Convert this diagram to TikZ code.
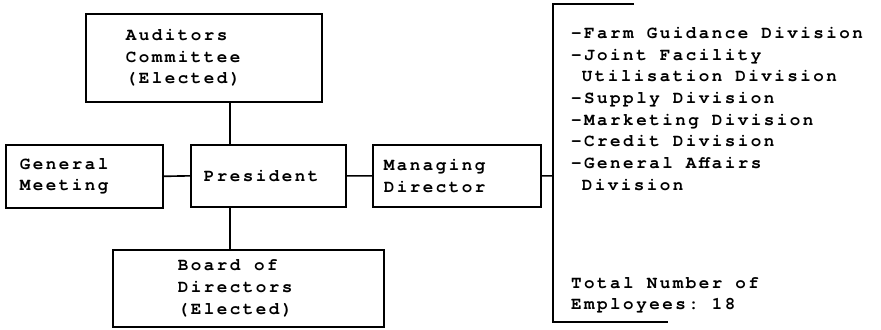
\documentclass[tikz,border=0pt]{standalone}
\usepackage{fontspec}
\setmonofont[LetterSpace=14]{texgyrecursor-bold.otf}
\usetikzlibrary{positioning}

\begin{document}
\begin{tikzpicture}[x=0.03cm, y=-0.03cm,
        every node/.style={font=\ttfamily\fontsize{15}{18.5}\selectfont},
        orgbox/.style={draw, line width=1.4pt, anchor=north west, align=left, inner ysep=0pt},
        link/.style={line width=1.4pt}]
        \useasboundingbox (0,0) rectangle (881,329);
        \begin{scope}[node distance=1 and 1]
            \node[orgbox, minimum width=7.08cm, minimum height=2.64cm, inner xsep=1.2cm, text width=4.68cm](AC) at (85,13){Auditors\\Committee\\(Elected)};
            \node[orgbox, minimum width=4.71cm, minimum height=1.89cm, inner xsep=0.42cm, text width=3.87cm](GM) at (5,144){General\\Meeting};
            \node[orgbox, minimum width=4.65cm, minimum height=1.86cm, inner xsep=0.39cm, text width=3.87cm](P) at (190,144){President};
            \node[orgbox, minimum width=5.04cm, minimum height=1.86cm, inner xsep=0.33cm, text width=4.38cm](MD) at (372,144){Managing\\Director};
            \node[orgbox, minimum width=8.13cm, minimum height=2.31cm, inner xsep=1.95cm, text width=4.23cm](BD) at (112,249){Board\hspace{0.45em} of\\Directors\\(Elected)};
            \node[anchor=north west, align=left, inner sep=0pt](DIV) at (571,27){-Farm Guidance Division\\-Joint Facility\\\phantom{-}Utilisation Division\\-Supply Division\\-Marketing Division\\-Credit Division\\-General Affairs\\\phantom{-}Division};
            \node[anchor=north west, align=left, inner sep=0pt](TOT) at (571,277){Total Number of\\Employees: 18};
        \end{scope}
        \coordinate (V) at (230,0);
        \coordinate (BT) at (634,4);
        \coordinate (BTL) at (553,4);
        \coordinate (BBL) at (553,322);
        \coordinate (BB) at (668,322);
        \draw[link] (BT) -- (BTL) -- (BBL) -- (BB);
        \draw[link]
        (AC.south -| V) -- (P.north -| V)
        (P.south -| V) -- (BD.north -| V)
        (GM.east) -- (P.west)
        (P.east) -- (MD.west)
        (MD.east) -- (MD.east -| BTL)
        ;
    \end{tikzpicture}
\end{document}
